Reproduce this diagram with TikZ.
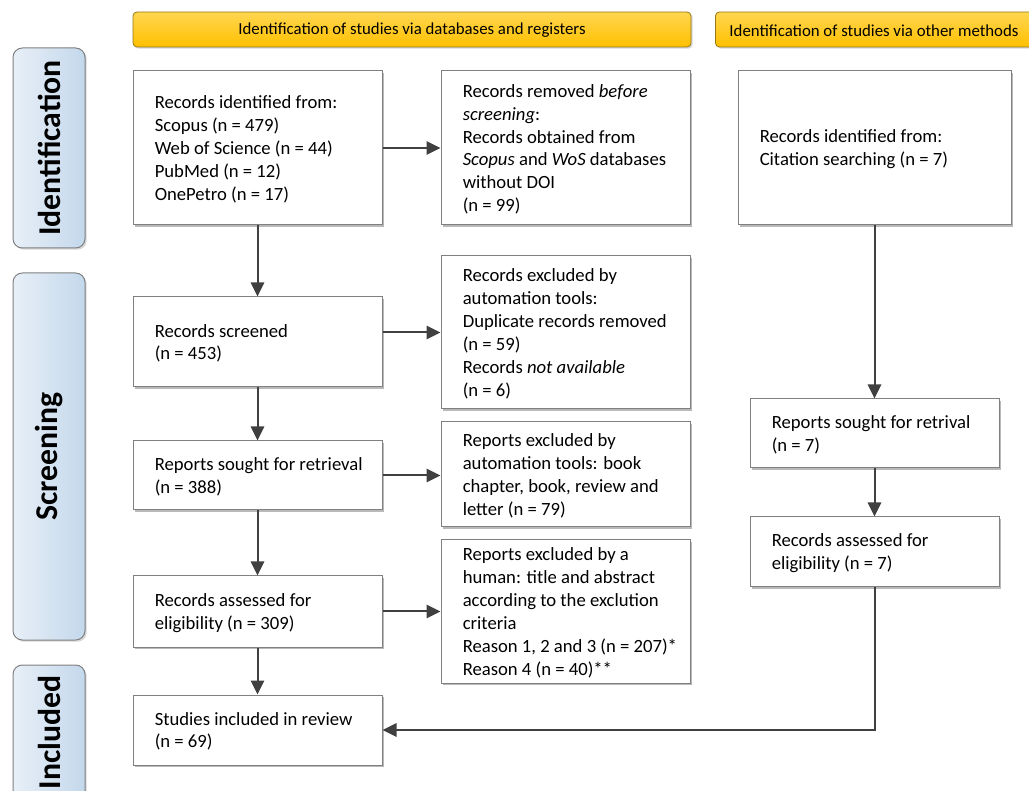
\documentclass[tikz,border=0pt]{standalone}
\usepackage{fontspec}
\setmainfont{Carlito}
\usetikzlibrary{arrows.meta,shadows}
\definecolor{boxline}{RGB}{128,128,128}
\definecolor{arrline}{RGB}{64,64,64}
\definecolor{hdrtop}{RGB}{255,214,80}
\definecolor{hdrbot}{RGB}{255,192,0}
\definecolor{hdrline}{RGB}{150,120,20}
\definecolor{sidel}{RGB}{232,239,247}
\definecolor{sider}{RGB}{196,216,236}
\newcommand\mkbox[6]{%
  \pgfmathsetmacro\mkw{(#4-#2)*0.75}%
  \pgfmathsetmacro\mkh{(#5-#3)*0.75}%
  \node[box, minimum width=\mkw pt, minimum height=\mkh pt] (#1) at ({(#2+#4)/2},{(#3+#5)/2}) {};
  \node[txt] (#1t) at ([xshift=16.5pt,yshift=-1pt]#1.west) {#6};
}
\newcommand\mkside[6]{%
  \pgfmathsetmacro\mkw{(#4-#2)*0.75}%
  \pgfmathsetmacro\mkh{(#5-#3)*0.75}%
  \node[side, minimum width=\mkw pt, minimum height=\mkh pt] (#1) at ({(#2+#4)/2},{(#3+#5)/2}) {};
  \node[sidetxt] (#1t) at (#1.center) {#6};
}
\begin{document}
\begin{tikzpicture}[x=0.75pt,y=-0.75pt,
  box/.style={draw=boxline, line width=0.75pt, fill=white, inner sep=0pt,
    drop shadow={shadow xshift=1.3pt,shadow yshift=-1.3pt,fill=black!50,opacity=0.55}},
  txt/.style={anchor=west, align=left, inner sep=0pt, font=\fontsize{14}{17.2}\selectfont},
  hdrtxt/.style={inner sep=0pt, font=\fontsize{12.6}{14}\selectfont},
  hdr/.style={draw=hdrline, line width=0.6pt, rounded corners=3pt, top color=hdrtop, bottom color=hdrbot,
    inner sep=0pt,
    drop shadow={shadow xshift=1.2pt,shadow yshift=-1.2pt,fill=black!40,opacity=0.4}},
  side/.style={draw=boxline, line width=0.75pt, rounded corners=7pt, left color=sidel, right color=sider,
    inner sep=0pt, drop shadow={shadow xshift=1.3pt,shadow yshift=-1.3pt,fill=black!40,opacity=0.4}},
  sidetxt/.style={rotate=90, inner sep=0pt, font=\fontsize{23.8}{26}\selectfont\bfseries},
  arr/.style={draw=arrline, line width=1.5pt, -{Triangle[length=10.5pt,width=10pt]}}
]
\useasboundingbox (0,0) rectangle (1029,791);
\clip (0,0) rectangle (1029,791);
\node[hdr, minimum width=558*0.75pt, minimum height=35*0.75pt] (h1) at (412,29.5) {};
\node[hdrtxt] (h1t) at (412,30.5) {Identification of studies via databases and registers};
\node[hdr, minimum width=330*0.75pt, minimum height=35*0.75pt, anchor=west] (h2) at (715,29.5) {};
\node[hdrtxt] (h2t) at (874,30.5) {Identification of studies via other methods};

\mkside{s1}{13}{48}{85}{248}{Identification}
\mkside{s2}{13}{273}{85}{640}{Screening}
\mkside{s3}{13}{665}{85}{800}{Included}

\mkbox{b1}{133}{71}{382}{225}{Records identified from:\\Scopus (n = 479)\\Web of Science (n = 44)\\PubMed (n = 12)\\OnePetro (n = 17)}
\mkbox{b2}{441}{71}{690}{225}{Records removed \textit{before}\\\textit{screening}:\\Records obtained from\\\textit{Scopus} and \textit{WoS} databases\\without DOI\\(n = 99)}
\mkbox{b3}{738}{71}{1011}{225}{Records identified from:\\Citation searching (n = 7)}
\mkbox{b4}{133}{297}{382}{387}{Records screened\\(n = 453)}
\mkbox{b5}{441}{256}{690}{409}{Records excluded by\\automation tools:\\Duplicate records removed\\(n = 59)\\Records \textit{not available}\\(n = 6)}
\mkbox{b6}{133}{441}{382}{510}{Reports sought for retrieval\\(n = 388)}
\mkbox{b7}{441}{422}{690}{527}{Reports excluded by\\automation tools: book\\chapter, book, review and\\letter (n = 79)}
\mkbox{b8}{133}{576}{382}{647}{Records assessed for\\eligibility (n = 309)}
\mkbox{b9}{441}{540}{690}{683}{Reports excluded by a\\human: title and abstract\\according to the exclution\\criteria\\Reason 1, 2 and 3 (n = 207)*\\Reason 4 (n = 40)**}
\mkbox{b10}{133}{695}{382}{765}{Studies included in review\\(n = 69)}
\mkbox{b11}{750}{399}{999}{468}{Reports sought for retrival\\(n = 7)}
\mkbox{b12}{750}{517}{999}{587}{Records assessed for\\eligibility (n = 7)}

\draw[arr] (b1.east) -- (b1.east -| b2.west);
\draw[arr] (b1.south) -- (b4.north);
\draw[arr] (b5.west -| b4.east) -- (b5.west);
\draw[arr] (b4.south) -- (b6.north);
\draw[arr] (b6.east) -- (b6.east -| b7.west);
\draw[arr] (b6.south) -- (b8.north);
\draw[arr] (b8.east) -- (b8.east -| b9.west);
\draw[arr] (b8.south) -- (b10.north);
\draw[arr] (b3.south) -- (b11.north);
\draw[arr] (b11.south) -- (b12.north);
\draw[arr] (b12.south) |- (b10.east);
\end{tikzpicture}
\end{document}
